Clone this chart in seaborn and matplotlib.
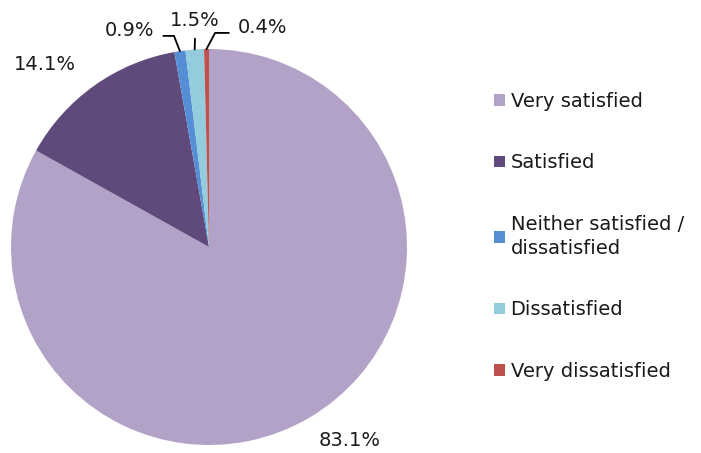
import numpy as np
import matplotlib
matplotlib.use('Agg')
import matplotlib.pyplot as plt
import seaborn as sns
from matplotlib.patches import Patch

sns.set_style('white')
plt.rcParams['font.family'] = ['DejaVu Sans']

# Data
categories = ['Very satisfied', 'Satisfied', 'Neither satisfied /\ndissatisfied',
              'Dissatisfied', 'Very dissatisfied']
shares = [83.1, 14.1, 0.9, 1.5, 0.4]
colors = ['#B3A2C7', '#604A7B', '#558ED5', '#93CDDD', '#C0504D']

# label text positions (pie radius units); leader line style per label
label_xy = [(0.71, -0.975), (-0.83, 0.92), (-0.40, 1.095), (-0.07, 1.145), (0.27, 1.11)]
# (relpos on text, connection style) or None for no leader line
leader = [None, None,
          ((1.0, 0.2), 'angle,angleA=0,angleB=111,rad=0'),
          ((0.5, 0.0), 'arc3'),
          ((0.0, 0.2), 'angle,angleA=0,angleB=62,rad=0')]

fig = plt.figure(figsize=(7.01, 4.53), dpi=100)
cx, cy, r = 209, 247, 198
ax = fig.add_axes([(cx - r) / 701, (453 - cy - r) / 453, 2 * r / 701, 2 * r / 453])

wedges, _ = ax.pie(shares, colors=colors, startangle=90, counterclock=False,
                   wedgeprops=dict(linewidth=0))
ax.set_xlim(-1, 1)
ax.set_ylim(-1, 1)
ax.set_aspect('equal')
ax.axis('off')

for w, val, (tx, ty), ld in zip(wedges, shares, label_xy, leader):
    ang = np.deg2rad((w.theta1 + w.theta2) / 2)
    px, py = np.cos(ang), np.sin(ang)
    if ld:
        ax.annotate(f'{val:.1f}%', xy=(px, py), xytext=(tx, ty),
                    ha='center', va='center', fontsize=14, color='#1a1a1a',
                    annotation_clip=False,
                    arrowprops=dict(arrowstyle='-', color='black', lw=1.3,
                                    relpos=ld[0], connectionstyle=ld[1],
                                    shrinkA=4, shrinkB=0))
    else:
        ax.text(tx, ty, f'{val:.1f}%', ha='center', va='center',
                fontsize=14, color='#1a1a1a')

handles = [Patch(facecolor=c, edgecolor='none') for c in colors]
leg = fig.legend(handles, categories, loc='upper left',
                 bbox_to_anchor=(494 / 701, (453 - 92) / 453),
                 frameon=False, fontsize=14, borderpad=0, borderaxespad=0,
                 handlelength=0.55, handleheight=0.55, handletextpad=0.3,
                 labelspacing=2.18)
for t in leg.get_texts():
    t.set_linespacing(1.35)
    t.set_color('#1a1a1a')

fig.savefig('out.png', dpi=100)
